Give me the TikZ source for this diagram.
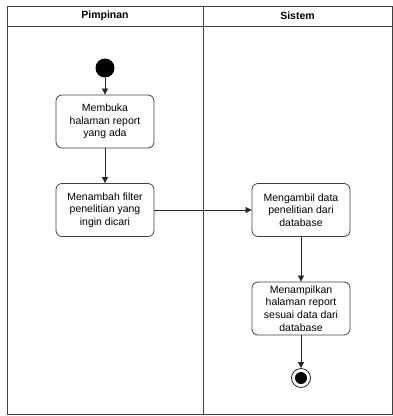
\documentclass[tikz,border=0pt]{standalone}
\usepackage{fontspec}
\setmainfont{Liberation Sans}
\usetikzlibrary{arrows.meta}
\begin{document}
\begin{tikzpicture}[x=1pt,y=-1pt,
  lane/.style={draw=black!75,line width=0.9pt},
  act/.style={draw=black!75,line width=0.8pt,rounded corners=6pt,minimum width=98pt,minimum height=53pt,align=center,font=\fontsize{10.5}{12.7}\selectfont,inner sep=1pt},
  flow/.style={draw=black!85,line width=0.7pt,-{Triangle[length=6pt,width=6pt]}},
  hdr/.style={font=\bfseries\fontsize{10.5}{12}\selectfont}]
\useasboundingbox (0,0) rectangle (393,416);
% swimlanes
\draw[lane] (7,6) rectangle (392,414);
\draw[lane] (7,26) -- (392,26);
\draw[lane] (203,6) -- (203,414);
\node[hdr] (h1) at (105,16) {Pimpinan};
\node[hdr] (h2) at (297.5,16) {Sistem};
% nodes
\node[circle,fill=black,minimum size=19pt,inner sep=0pt] (start) at (105,68) {};
\node[act] (a1) at (105,121.5) {Membuka\\halaman report\\yang ada};
\node[act] (a2) at (105,210) {Menambah filter\\penelitian yang\\ingin dicari};
\node[act] (a3) at (301,210) {Mengambil data\\penelitian dari\\database};
\node[act] (a4) at (301,308.5) {Menampilkan\\halaman report\\sesuai data dari\\database};
\node[circle,draw=black!85,line width=0.8pt,minimum size=19pt,inner sep=0pt] (end) at (301,378) {};
\node[circle,fill=black,minimum size=12pt,inner sep=0pt] (endin) at (end) {};
% flows
\draw[flow] (start) -- (a1);
\draw[flow] (a1) -- (a2);
\draw[flow] (a2) -- (a3);
\draw[flow] (a3) -- (a4);
\draw[flow] (a4) -- (end);
\end{tikzpicture}
\end{document}
